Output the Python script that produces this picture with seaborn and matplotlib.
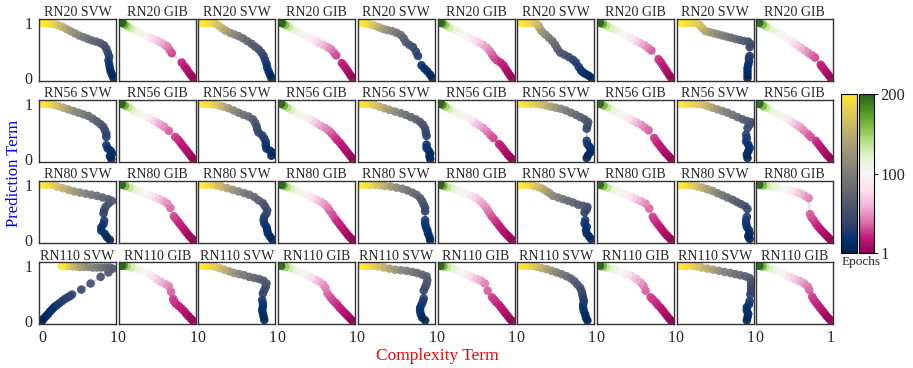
import numpy as np
import pandas as pd
import seaborn as sns
import matplotlib
matplotlib.use("Agg")
import matplotlib.pyplot as plt
from matplotlib.colors import Normalize
from matplotlib.cm import ScalarMappable

# model rows and method columns (SVW / GIB alternate, five runs each)
models = ["RN20", "RN56", "RN80", "RN110"]
methods = ["SVW", "GIB"] * 5
epoch_ticks = [1, 100, 200]

# trajectories: (complexity term, prediction term, epoch)
rn20_svw_a = [(1.00, 0.00, 1), (0.98, 0.06, 5), (0.96, 0.12, 9), (0.95, 0.18, 13), (0.94, 0.25, 17), (0.93, 0.32, 22), (0.94, 0.39, 28), (0.92, 0.46, 35), (0.90, 0.53, 42), (0.87, 0.59, 50), (0.82, 0.63, 58), (0.76, 0.66, 66), (0.70, 0.68, 74), (0.64, 0.71, 82), (0.58, 0.74, 92), (0.52, 0.77, 102), (0.46, 0.81, 112), (0.40, 0.85, 122), (0.34, 0.89, 136), (0.28, 0.93, 150), (0.22, 0.96, 165), (0.16, 0.98, 178), (0.11, 0.99, 188), (0.06, 1.00, 195), (0.02, 1.00, 198), (0.00, 1.00, 200)]
rn20_gib_a = [(1.00, 0.00, 1), (0.97, 0.05, 4), (0.94, 0.10, 8), (0.91, 0.16, 12), (0.88, 0.21, 16), (0.84, 0.28, 20), (0.70, 0.45, 28), (0.67, 0.51, 34), (0.64, 0.57, 40), (0.60, 0.60, 48), (0.55, 0.64, 56), (0.49, 0.68, 66), (0.43, 0.71, 76), (0.37, 0.74, 88), (0.31, 0.78, 98), (0.25, 0.82, 108), (0.19, 0.86, 116), (0.13, 0.90, 128), (0.08, 0.94, 145), (0.04, 0.97, 168), (0.01, 1.00, 190), (0.00, 1.00, 200)]
rn20_svw_b = [(0.98, 0.00, 1), (0.96, 0.06, 5), (0.94, 0.12, 10), (0.92, 0.19, 15), (0.91, 0.26, 20), (0.89, 0.33, 26), (0.87, 0.40, 32), (0.84, 0.46, 40), (0.80, 0.52, 48), (0.75, 0.57, 56), (0.70, 0.62, 64), (0.64, 0.67, 72), (0.58, 0.72, 82), (0.52, 0.76, 94), (0.46, 0.79, 106), (0.40, 0.82, 118), (0.34, 0.86, 132), (0.29, 0.90, 146), (0.24, 0.95, 160), (0.19, 0.99, 172), (0.13, 1.00, 184), (0.07, 1.00, 192), (0.02, 1.00, 197), (0.00, 1.00, 200)]
rn20_gib_b = [(1.00, 0.00, 1), (0.97, 0.05, 4), (0.94, 0.11, 8), (0.91, 0.17, 12), (0.88, 0.22, 16), (0.85, 0.27, 20), (0.77, 0.41, 28), (0.74, 0.46, 34), (0.70, 0.52, 40), (0.65, 0.56, 48), (0.59, 0.60, 58), (0.53, 0.64, 68), (0.47, 0.68, 80), (0.41, 0.72, 90), (0.35, 0.76, 98), (0.29, 0.80, 104), (0.23, 0.84, 110), (0.17, 0.88, 120), (0.11, 0.93, 134), (0.06, 0.96, 158), (0.02, 0.99, 185), (0.00, 1.00, 200)]
rn20_svw_c = [(1.00, 0.00, 1), (0.97, 0.06, 5), (0.93, 0.12, 9), (0.89, 0.17, 13), (0.85, 0.23, 18), (0.80, 0.40, 28), (0.77, 0.48, 35), (0.73, 0.56, 42), (0.68, 0.60, 50), (0.63, 0.65, 58), (0.60, 0.72, 66), (0.56, 0.78, 76), (0.50, 0.82, 88), (0.44, 0.85, 100), (0.37, 0.87, 114), (0.31, 0.89, 128), (0.25, 0.92, 144), (0.19, 0.95, 160), (0.14, 0.97, 174), (0.09, 0.99, 186), (0.04, 1.00, 195), (0.00, 1.00, 200)]
rn20_gib_c = [(1.00, 0.00, 1), (0.97, 0.05, 5), (0.94, 0.11, 9), (0.91, 0.17, 13), (0.88, 0.23, 17), (0.84, 0.28, 21), (0.79, 0.32, 25), (0.75, 0.37, 30), (0.72, 0.43, 35), (0.69, 0.49, 41), (0.65, 0.55, 48), (0.60, 0.60, 56), (0.54, 0.64, 66), (0.48, 0.68, 78), (0.42, 0.72, 88), (0.36, 0.76, 96), (0.30, 0.80, 102), (0.24, 0.84, 108), (0.18, 0.88, 116), (0.12, 0.92, 130), (0.07, 0.96, 150), (0.03, 0.99, 178), (0.00, 1.00, 200)]
rn20_svw_d = [(1.00, 0.00, 1), (0.96, 0.04, 5), (0.92, 0.07, 9), (0.88, 0.10, 13), (0.85, 0.14, 17), (0.82, 0.20, 22), (0.78, 0.28, 28), (0.74, 0.33, 34), (0.68, 0.38, 40), (0.62, 0.42, 48), (0.56, 0.46, 56), (0.52, 0.53, 64), (0.49, 0.60, 74), (0.45, 0.67, 84), (0.40, 0.73, 96), (0.35, 0.79, 108), (0.30, 0.85, 120), (0.27, 0.91, 134), (0.25, 0.96, 150), (0.21, 0.99, 166), (0.15, 1.00, 180), (0.09, 1.00, 190), (0.04, 1.00, 196), (0.00, 1.00, 200)]
rn20_gib_d = [(1.00, 0.00, 1), (0.97, 0.05, 5), (0.94, 0.11, 9), (0.91, 0.17, 13), (0.88, 0.23, 17), (0.85, 0.29, 21), (0.82, 0.34, 25), (0.72, 0.50, 33), (0.68, 0.54, 40), (0.63, 0.59, 48), (0.57, 0.63, 58), (0.51, 0.67, 70), (0.45, 0.71, 82), (0.39, 0.75, 92), (0.33, 0.79, 100), (0.27, 0.83, 106), (0.21, 0.87, 114), (0.15, 0.91, 124), (0.09, 0.95, 140), (0.04, 0.98, 168), (0.00, 1.00, 200)]
rn20_svw_e = [(0.95, 0.00, 1), (0.95, 0.06, 5), (0.95, 0.12, 9), (0.95, 0.18, 13), (0.96, 0.24, 17), (0.97, 0.30, 21), (0.97, 0.36, 25), (0.98, 0.40, 29), (0.98, 0.56, 40), (0.99, 0.62, 46), (0.96, 0.66, 52), (0.90, 0.67, 60), (0.84, 0.69, 68), (0.78, 0.71, 76), (0.72, 0.73, 84), (0.66, 0.75, 92), (0.60, 0.77, 100), (0.54, 0.79, 108), (0.48, 0.81, 116), (0.42, 0.83, 126), (0.36, 0.85, 138), (0.32, 0.90, 152), (0.28, 0.96, 166), (0.22, 1.00, 178), (0.16, 1.00, 186), (0.10, 1.00, 192), (0.05, 1.00, 197), (0.00, 1.00, 200)]
rn20_gib_e = [(1.00, 0.00, 1), (0.97, 0.05, 5), (0.94, 0.10, 9), (0.91, 0.15, 13), (0.88, 0.20, 17), (0.86, 0.24, 21), (0.78, 0.37, 30), (0.74, 0.41, 36), (0.69, 0.45, 42), (0.64, 0.50, 50), (0.58, 0.55, 60), (0.52, 0.60, 70), (0.46, 0.66, 80), (0.40, 0.71, 90), (0.34, 0.76, 98), (0.28, 0.81, 104), (0.22, 0.85, 110), (0.16, 0.89, 120), (0.10, 0.93, 136), (0.05, 0.97, 162), (0.00, 1.00, 200)]

rn56_svw_a = [(0.97, 0.00, 1), (0.95, 0.05, 5), (0.98, 0.10, 9), (0.96, 0.15, 13), (0.92, 0.19, 17), (0.90, 0.25, 21), (0.90, 0.40, 30), (0.90, 0.46, 36), (0.88, 0.52, 42), (0.86, 0.58, 48), (0.82, 0.63, 55), (0.77, 0.68, 62), (0.71, 0.73, 70), (0.65, 0.78, 80), (0.58, 0.81, 90), (0.51, 0.84, 100), (0.44, 0.87, 112), (0.37, 0.90, 126), (0.30, 0.93, 142), (0.23, 0.96, 158), (0.17, 0.98, 172), (0.11, 1.00, 184), (0.05, 1.00, 194), (0.00, 1.00, 200)]
rn56_gib_a = [(1.00, 0.00, 1), (0.97, 0.05, 4), (0.94, 0.10, 7), (0.91, 0.15, 10), (0.88, 0.20, 13), (0.85, 0.25, 16), (0.82, 0.30, 19), (0.79, 0.35, 22), (0.75, 0.40, 26), (0.66, 0.51, 34), (0.60, 0.58, 42), (0.55, 0.62, 50), (0.50, 0.66, 60), (0.44, 0.70, 72), (0.38, 0.74, 86), (0.32, 0.78, 96), (0.26, 0.82, 104), (0.20, 0.86, 112), (0.14, 0.90, 124), (0.09, 0.94, 140), (0.04, 0.97, 168), (0.00, 1.00, 200)]
rn56_svw_b = [(0.98, 0.06, 1), (1.00, 0.11, 5), (0.96, 0.15, 9), (0.91, 0.19, 13), (0.90, 0.25, 17), (0.90, 0.31, 21), (0.88, 0.37, 26), (0.85, 0.43, 31), (0.80, 0.48, 36), (0.78, 0.54, 42), (0.77, 0.60, 48), (0.75, 0.66, 55), (0.72, 0.72, 62), (0.66, 0.77, 72), (0.59, 0.80, 82), (0.52, 0.84, 94), (0.45, 0.88, 108), (0.38, 0.92, 124), (0.31, 0.95, 142), (0.25, 0.97, 160), (0.18, 0.99, 174), (0.12, 1.00, 186), (0.06, 1.00, 194), (0.00, 1.00, 200)]
rn56_gib_b = [(1.00, 0.00, 1), (0.97, 0.05, 4), (0.94, 0.10, 7), (0.91, 0.15, 10), (0.88, 0.20, 13), (0.85, 0.25, 16), (0.82, 0.30, 19), (0.78, 0.35, 22), (0.75, 0.40, 26), (0.71, 0.46, 31), (0.67, 0.51, 37), (0.62, 0.56, 44), (0.56, 0.60, 52), (0.50, 0.65, 62), (0.44, 0.69, 74), (0.38, 0.73, 86), (0.32, 0.77, 96), (0.26, 0.81, 104), (0.20, 0.85, 112), (0.14, 0.89, 124), (0.09, 0.93, 140), (0.04, 0.97, 168), (0.00, 1.00, 200)]
rn56_svw_c = [(0.97, 0.00, 1), (0.96, 0.05, 5), (0.97, 0.10, 9), (0.95, 0.15, 13), (0.92, 0.20, 17), (0.92, 0.26, 21), (0.92, 0.42, 31), (0.91, 0.48, 37), (0.90, 0.55, 43), (0.87, 0.62, 50), (0.83, 0.67, 57), (0.77, 0.72, 65), (0.70, 0.76, 74), (0.63, 0.80, 84), (0.56, 0.83, 96), (0.48, 0.86, 108), (0.40, 0.89, 122), (0.33, 0.92, 138), (0.26, 0.95, 154), (0.19, 0.98, 168), (0.13, 1.00, 180), (0.07, 1.00, 190), (0.02, 1.00, 197), (0.00, 1.00, 200)]
rn56_gib_c = [(1.00, 0.00, 1), (0.97, 0.04, 4), (0.94, 0.08, 7), (0.91, 0.13, 10), (0.88, 0.18, 13), (0.85, 0.23, 16), (0.82, 0.27, 20), (0.74, 0.38, 28), (0.70, 0.43, 34), (0.65, 0.50, 40), (0.60, 0.56, 48), (0.54, 0.61, 58), (0.48, 0.66, 70), (0.42, 0.71, 84), (0.36, 0.75, 94), (0.30, 0.79, 102), (0.24, 0.83, 108), (0.18, 0.87, 116), (0.12, 0.91, 128), (0.07, 0.95, 148), (0.03, 0.98, 176), (0.00, 1.00, 200)]
rn56_svw_d = [(0.93, 0.02, 1), (0.95, 0.07, 5), (0.98, 0.12, 9), (1.00, 0.17, 13), (0.97, 0.22, 17), (0.94, 0.27, 21), (0.93, 0.33, 25), (0.93, 0.55, 38), (0.94, 0.61, 44), (0.95, 0.67, 50), (0.90, 0.72, 58), (0.84, 0.76, 66), (0.78, 0.80, 74), (0.71, 0.84, 84), (0.64, 0.88, 94), (0.57, 0.91, 106), (0.50, 0.93, 118), (0.43, 0.95, 132), (0.36, 0.97, 146), (0.29, 0.99, 160), (0.22, 1.00, 172), (0.15, 1.00, 182), (0.08, 1.00, 192), (0.00, 1.00, 200)]
rn56_gib_d = [(1.00, 0.00, 1), (0.97, 0.04, 4), (0.94, 0.08, 7), (0.91, 0.12, 10), (0.88, 0.17, 13), (0.85, 0.22, 16), (0.82, 0.27, 19), (0.79, 0.32, 22), (0.76, 0.38, 26), (0.68, 0.52, 34), (0.63, 0.57, 40), (0.58, 0.62, 48), (0.52, 0.66, 58), (0.46, 0.70, 70), (0.40, 0.74, 84), (0.34, 0.78, 94), (0.28, 0.82, 102), (0.22, 0.86, 110), (0.16, 0.90, 120), (0.10, 0.94, 136), (0.05, 0.97, 162), (0.00, 1.00, 200)]
rn56_svw_e = [(0.95, 0.02, 1), (0.94, 0.08, 5), (0.96, 0.14, 9), (0.98, 0.20, 13), (0.96, 0.26, 17), (0.93, 0.32, 21), (0.94, 0.38, 25), (0.93, 0.44, 29), (0.95, 0.56, 38), (0.98, 0.62, 44), (1.00, 0.67, 50), (0.94, 0.69, 58), (0.88, 0.72, 66), (0.81, 0.76, 76), (0.74, 0.80, 86), (0.67, 0.84, 96), (0.60, 0.87, 108), (0.53, 0.90, 120), (0.46, 0.93, 134), (0.39, 0.96, 148), (0.32, 0.99, 162), (0.25, 1.00, 174), (0.17, 1.00, 184), (0.09, 1.00, 193), (0.00, 1.00, 200)]
rn56_gib_e = [(1.00, 0.00, 1), (0.97, 0.04, 4), (0.94, 0.08, 7), (0.91, 0.13, 10), (0.88, 0.18, 13), (0.85, 0.23, 16), (0.82, 0.28, 19), (0.79, 0.33, 23), (0.72, 0.40, 30), (0.68, 0.45, 35), (0.62, 0.52, 42), (0.57, 0.58, 50), (0.52, 0.62, 60), (0.46, 0.67, 72), (0.40, 0.72, 86), (0.34, 0.76, 96), (0.28, 0.80, 104), (0.22, 0.84, 110), (0.16, 0.88, 120), (0.10, 0.93, 136), (0.05, 0.96, 162), (0.00, 1.00, 200)]

rn80_svw_a = [(0.95, 0.00, 1), (0.91, 0.05, 5), (0.88, 0.11, 9), (0.83, 0.17, 13), (0.83, 0.23, 17), (0.86, 0.29, 21), (0.87, 0.35, 25), (0.86, 0.48, 34), (0.87, 0.54, 40), (0.89, 0.60, 46), (0.93, 0.66, 52), (0.98, 0.71, 58), (0.93, 0.74, 64), (0.85, 0.77, 72), (0.77, 0.80, 80), (0.69, 0.82, 90), (0.61, 0.84, 100), (0.53, 0.86, 112), (0.45, 0.88, 124), (0.37, 0.91, 138), (0.29, 0.94, 152), (0.21, 0.97, 166), (0.14, 1.00, 180), (0.07, 1.00, 192), (0.00, 1.00, 200)]
rn80_gib_a = [(1.00, 0.00, 1), (0.97, 0.04, 4), (0.94, 0.08, 7), (0.91, 0.13, 10), (0.88, 0.18, 13), (0.85, 0.23, 16), (0.82, 0.28, 19), (0.79, 0.33, 22), (0.76, 0.38, 25), (0.73, 0.43, 29), (0.68, 0.58, 37), (0.64, 0.66, 44), (0.59, 0.70, 52), (0.53, 0.74, 62), (0.47, 0.77, 74), (0.41, 0.80, 88), (0.35, 0.83, 96), (0.29, 0.86, 104), (0.23, 0.89, 110), (0.17, 0.92, 120), (0.11, 0.95, 134), (0.05, 0.98, 162), (0.00, 1.00, 200)]
rn80_svw_b = [(0.99, 0.01, 1), (0.96, 0.06, 5), (0.93, 0.12, 9), (0.92, 0.18, 13), (0.91, 0.24, 17), (0.88, 0.30, 21), (0.87, 0.36, 25), (0.88, 0.42, 30), (0.91, 0.48, 35), (0.92, 0.54, 41), (0.89, 0.61, 48), (0.86, 0.67, 55), (0.80, 0.72, 63), (0.74, 0.78, 72), (0.67, 0.82, 82), (0.60, 0.85, 92), (0.52, 0.88, 104), (0.44, 0.91, 120), (0.36, 0.94, 136), (0.28, 0.97, 154), (0.21, 0.99, 168), (0.14, 1.00, 182), (0.07, 1.00, 193), (0.00, 1.00, 200)]
rn80_gib_b = [(1.00, 0.00, 1), (0.97, 0.04, 4), (0.94, 0.08, 7), (0.91, 0.13, 10), (0.88, 0.18, 13), (0.85, 0.23, 16), (0.82, 0.28, 19), (0.79, 0.33, 22), (0.76, 0.38, 25), (0.72, 0.46, 30), (0.68, 0.53, 35), (0.65, 0.59, 41), (0.61, 0.65, 48), (0.56, 0.69, 56), (0.50, 0.73, 66), (0.44, 0.77, 78), (0.38, 0.81, 90), (0.32, 0.84, 98), (0.26, 0.87, 106), (0.20, 0.90, 114), (0.14, 0.93, 124), (0.08, 0.96, 144), (0.03, 0.99, 176), (0.00, 1.00, 200)]
rn80_svw_c = [(0.97, 0.00, 1), (0.96, 0.06, 5), (0.94, 0.12, 9), (0.93, 0.18, 13), (0.91, 0.24, 17), (0.90, 0.30, 21), (0.90, 0.36, 25), (0.90, 0.52, 36), (0.90, 0.58, 42), (0.88, 0.64, 48), (0.86, 0.70, 55), (0.83, 0.76, 62), (0.78, 0.82, 70), (0.72, 0.86, 78), (0.65, 0.90, 88), (0.58, 0.93, 98), (0.50, 0.95, 112), (0.42, 0.97, 126), (0.34, 0.98, 142), (0.27, 0.99, 158), (0.20, 1.00, 172), (0.13, 1.00, 184), (0.06, 1.00, 194), (0.00, 1.00, 200)]
rn80_gib_c = [(1.00, 0.00, 1), (0.97, 0.04, 4), (0.94, 0.08, 7), (0.91, 0.12, 10), (0.88, 0.16, 13), (0.85, 0.21, 16), (0.82, 0.26, 19), (0.79, 0.31, 22), (0.76, 0.36, 26), (0.72, 0.42, 30), (0.69, 0.48, 35), (0.66, 0.54, 40), (0.63, 0.60, 46), (0.59, 0.66, 52), (0.55, 0.71, 58), (0.50, 0.76, 66), (0.45, 0.79, 76), (0.39, 0.82, 88), (0.33, 0.85, 98), (0.27, 0.88, 104), (0.21, 0.91, 112), (0.15, 0.94, 122), (0.09, 0.96, 138), (0.04, 0.98, 166), (0.00, 1.00, 200)]
rn80_svw_d = [(0.99, 0.02, 1), (0.96, 0.07, 5), (0.93, 0.12, 9), (0.92, 0.18, 13), (0.93, 0.24, 17), (0.90, 0.30, 21), (0.91, 0.36, 25), (0.90, 0.50, 35), (0.93, 0.55, 41), (0.94, 0.60, 47), (0.88, 0.62, 54), (0.81, 0.64, 62), (0.74, 0.68, 70), (0.67, 0.71, 78), (0.60, 0.74, 88), (0.53, 0.77, 98), (0.46, 0.80, 108), (0.41, 0.85, 120), (0.36, 0.89, 132), (0.31, 0.93, 146), (0.25, 0.96, 160), (0.19, 0.98, 172), (0.13, 1.00, 184), (0.07, 1.00, 193), (0.00, 1.00, 200)]
rn80_gib_d = [(1.00, 0.00, 1), (0.97, 0.04, 4), (0.94, 0.08, 7), (0.91, 0.12, 10), (0.88, 0.17, 13), (0.85, 0.22, 16), (0.82, 0.27, 19), (0.79, 0.32, 22), (0.76, 0.37, 25), (0.74, 0.42, 28), (0.69, 0.57, 36), (0.64, 0.66, 44), (0.58, 0.70, 52), (0.52, 0.73, 62), (0.46, 0.77, 74), (0.40, 0.80, 88), (0.34, 0.83, 96), (0.28, 0.86, 104), (0.22, 0.89, 110), (0.16, 0.92, 120), (0.10, 0.95, 136), (0.05, 0.98, 162), (0.00, 1.00, 200)]
rn80_svw_e = [(0.98, 0.02, 1), (0.96, 0.07, 5), (0.98, 0.12, 9), (0.97, 0.18, 13), (0.94, 0.24, 17), (0.93, 0.30, 21), (0.93, 0.36, 25), (0.94, 0.42, 29), (0.95, 0.56, 40), (0.92, 0.61, 46), (0.86, 0.65, 53), (0.80, 0.69, 60), (0.74, 0.73, 68), (0.67, 0.77, 78), (0.60, 0.81, 88), (0.53, 0.85, 100), (0.46, 0.89, 114), (0.39, 0.92, 128), (0.32, 0.95, 144), (0.25, 0.97, 160), (0.18, 0.99, 174), (0.12, 1.00, 185), (0.06, 1.00, 194), (0.00, 1.00, 200)]
rn80_gib_e = [(1.00, 0.00, 1), (0.97, 0.04, 4), (0.94, 0.08, 7), (0.91, 0.12, 10), (0.88, 0.16, 13), (0.85, 0.20, 16), (0.82, 0.25, 19), (0.79, 0.30, 22), (0.76, 0.36, 26), (0.73, 0.41, 30), (0.71, 0.47, 34), (0.69, 0.76, 42), (0.64, 0.80, 50), (0.58, 0.84, 60), (0.52, 0.87, 70), (0.46, 0.89, 82), (0.40, 0.91, 92), (0.34, 0.92, 100), (0.28, 0.94, 106), (0.22, 0.95, 112), (0.16, 0.96, 120), (0.10, 0.98, 134), (0.05, 0.99, 160), (0.00, 1.00, 200)]

rn110_svw_a = [(0.00, 0.00, 1), (0.02, 0.04, 3), (0.05, 0.08, 6), (0.08, 0.12, 9), (0.11, 0.17, 12), (0.14, 0.21, 15), (0.17, 0.25, 18), (0.20, 0.28, 21), (0.24, 0.32, 24), (0.28, 0.36, 27), (0.32, 0.40, 30), (0.36, 0.43, 33), (0.39, 0.45, 36), (0.42, 0.48, 38), (0.55, 0.57, 42), (0.68, 0.68, 47), (0.82, 0.80, 52), (0.93, 0.88, 57), (0.99, 0.95, 62), (0.95, 0.97, 68), (0.89, 0.97, 76), (0.83, 0.97, 84), (0.77, 0.97, 92), (0.71, 0.97, 100), (0.65, 0.98, 110), (0.59, 0.98, 120), (0.53, 0.98, 130), (0.48, 0.99, 142), (0.43, 0.99, 154), (0.38, 1.00, 166), (0.34, 1.00, 178), (0.31, 1.00, 188), (0.29, 1.00, 195), (0.28, 1.00, 200)]
rn110_gib_a = [(1.00, 0.00, 1), (0.97, 0.04, 4), (0.94, 0.08, 7), (0.91, 0.12, 10), (0.88, 0.17, 13), (0.84, 0.22, 16), (0.80, 0.27, 19), (0.76, 0.31, 22), (0.73, 0.36, 25), (0.72, 0.40, 28), (0.69, 0.53, 35), (0.66, 0.63, 42), (0.61, 0.67, 50), (0.55, 0.71, 58), (0.49, 0.76, 68), (0.43, 0.81, 80), (0.37, 0.86, 92), (0.31, 0.89, 100), (0.25, 0.92, 108), (0.19, 0.95, 116), (0.13, 0.97, 128), (0.07, 0.99, 148), (0.03, 1.00, 176), (0.00, 1.00, 200)]
rn110_svw_b = [(0.88, 0.02, 1), (0.87, 0.08, 5), (0.86, 0.14, 9), (0.85, 0.20, 13), (0.86, 0.26, 17), (0.86, 0.32, 21), (0.85, 0.38, 25), (0.86, 0.50, 34), (0.88, 0.56, 40), (0.90, 0.62, 46), (0.91, 0.68, 52), (0.87, 0.73, 58), (0.81, 0.76, 66), (0.74, 0.78, 74), (0.67, 0.80, 82), (0.60, 0.83, 92), (0.53, 0.85, 104), (0.46, 0.87, 118), (0.39, 0.90, 132), (0.32, 0.93, 148), (0.25, 0.96, 162), (0.18, 0.99, 176), (0.12, 1.00, 186), (0.06, 1.00, 194), (0.00, 1.00, 200)]
rn110_gib_b = [(1.00, 0.00, 1), (0.97, 0.04, 4), (0.94, 0.08, 7), (0.91, 0.12, 10), (0.88, 0.16, 13), (0.85, 0.20, 16), (0.82, 0.24, 19), (0.79, 0.29, 22), (0.76, 0.33, 25), (0.72, 0.38, 28), (0.69, 0.43, 31), (0.65, 0.50, 36), (0.62, 0.60, 42), (0.59, 0.66, 48), (0.54, 0.71, 56), (0.48, 0.75, 66), (0.42, 0.79, 78), (0.36, 0.83, 90), (0.30, 0.87, 100), (0.24, 0.90, 108), (0.18, 0.93, 116), (0.12, 0.96, 128), (0.06, 0.98, 150), (0.00, 1.00, 200)]
rn110_svw_c = [(0.90, 0.01, 1), (0.86, 0.06, 5), (0.84, 0.12, 9), (0.83, 0.18, 13), (0.83, 0.24, 17), (0.85, 0.30, 21), (0.87, 0.36, 25), (0.88, 0.41, 29), (0.88, 0.55, 40), (0.90, 0.61, 46), (0.92, 0.67, 52), (0.93, 0.74, 58), (0.92, 0.81, 64), (0.86, 0.84, 70), (0.79, 0.87, 78), (0.72, 0.89, 86), (0.64, 0.91, 96), (0.56, 0.92, 108), (0.48, 0.93, 120), (0.40, 0.95, 134), (0.32, 0.97, 150), (0.24, 0.99, 164), (0.17, 1.00, 178), (0.10, 1.00, 188), (0.05, 1.00, 195), (0.00, 1.00, 200)]
rn110_gib_c = [(1.00, 0.00, 1), (0.97, 0.04, 4), (0.94, 0.09, 7), (0.91, 0.14, 10), (0.88, 0.19, 13), (0.85, 0.24, 16), (0.82, 0.29, 19), (0.78, 0.34, 22), (0.75, 0.39, 25), (0.72, 0.43, 28), (0.66, 0.55, 35), (0.62, 0.68, 42), (0.57, 0.73, 50), (0.51, 0.76, 60), (0.45, 0.79, 70), (0.39, 0.83, 82), (0.33, 0.86, 94), (0.27, 0.90, 102), (0.21, 0.93, 110), (0.15, 0.96, 120), (0.09, 0.98, 136), (0.04, 0.99, 164), (0.00, 1.00, 200)]
rn110_svw_d = [(0.94, 0.01, 1), (0.92, 0.06, 5), (0.91, 0.12, 9), (0.89, 0.18, 13), (0.88, 0.24, 17), (0.88, 0.30, 21), (0.89, 0.36, 25), (0.88, 0.42, 30), (0.87, 0.48, 36), (0.86, 0.54, 42), (0.84, 0.60, 48), (0.80, 0.66, 55), (0.76, 0.72, 62), (0.71, 0.77, 70), (0.65, 0.81, 80), (0.58, 0.85, 90), (0.51, 0.88, 102), (0.44, 0.91, 116), (0.37, 0.94, 130), (0.30, 0.96, 146), (0.24, 0.98, 160), (0.18, 1.00, 174), (0.12, 1.00, 184), (0.06, 1.00, 193), (0.00, 1.00, 200)]
rn110_gib_d = [(1.00, 0.00, 1), (0.97, 0.04, 4), (0.94, 0.09, 7), (0.91, 0.14, 10), (0.88, 0.19, 13), (0.85, 0.24, 16), (0.81, 0.29, 19), (0.78, 0.34, 22), (0.74, 0.39, 25), (0.71, 0.43, 28), (0.64, 0.55, 35), (0.61, 0.64, 42), (0.57, 0.70, 50), (0.51, 0.76, 60), (0.45, 0.81, 70), (0.39, 0.84, 82), (0.33, 0.87, 94), (0.27, 0.90, 102), (0.21, 0.93, 110), (0.15, 0.95, 120), (0.09, 0.97, 136), (0.04, 0.99, 164), (0.00, 1.00, 200)]
rn110_svw_e = [(0.94, 0.01, 1), (0.95, 0.07, 5), (0.96, 0.13, 9), (0.94, 0.19, 13), (0.94, 0.25, 17), (0.97, 0.30, 21), (0.98, 0.36, 25), (0.99, 0.48, 33), (1.00, 0.54, 39), (1.00, 0.60, 44), (1.00, 0.66, 49), (1.00, 0.72, 54), (0.98, 0.78, 60), (0.92, 0.81, 66), (0.85, 0.83, 74), (0.78, 0.85, 82), (0.71, 0.87, 92), (0.63, 0.89, 102), (0.55, 0.91, 114), (0.47, 0.93, 128), (0.39, 0.95, 142), (0.31, 0.97, 156), (0.24, 0.99, 170), (0.17, 1.00, 182), (0.10, 1.00, 190), (0.04, 1.00, 196), (0.00, 1.00, 200)]
rn110_gib_e = [(1.00, 0.01, 1), (0.97, 0.05, 4), (0.94, 0.09, 7), (0.91, 0.14, 10), (0.88, 0.19, 13), (0.85, 0.24, 16), (0.82, 0.29, 19), (0.79, 0.34, 22), (0.76, 0.39, 25), (0.74, 0.44, 28), (0.70, 0.56, 35), (0.68, 0.62, 40), (0.63, 0.68, 46), (0.57, 0.72, 54), (0.50, 0.76, 64), (0.44, 0.79, 74), (0.38, 0.82, 86), (0.32, 0.86, 96), (0.26, 0.89, 104), (0.20, 0.93, 112), (0.14, 0.95, 122), (0.08, 0.98, 140), (0.04, 0.99, 166), (0.00, 1.00, 200)]

grid = [
    [rn20_svw_a, rn20_gib_a, rn20_svw_b, rn20_gib_b, rn20_svw_c, rn20_gib_c, rn20_svw_d, rn20_gib_d, rn20_svw_e, rn20_gib_e],
    [rn56_svw_a, rn56_gib_a, rn56_svw_b, rn56_gib_b, rn56_svw_c, rn56_gib_c, rn56_svw_d, rn56_gib_d, rn56_svw_e, rn56_gib_e],
    [rn80_svw_a, rn80_gib_a, rn80_svw_b, rn80_gib_b, rn80_svw_c, rn80_gib_c, rn80_svw_d, rn80_gib_d, rn80_svw_e, rn80_gib_e],
    [rn110_svw_a, rn110_gib_a, rn110_svw_b, rn110_gib_b, rn110_svw_c, rn110_gib_c, rn110_svw_d, rn110_gib_d, rn110_svw_e, rn110_gib_e],
]

cmaps = {"SVW": "cividis", "GIB": "PiYG"}
trail = {"SVW": "#ccd4e4", "GIB": "#f6cfe2"}

sns.set_style("white")
plt.rcParams["font.family"] = ["Liberation Serif", "DejaVu Serif"]

W, H = 913, 368
fig = plt.figure(figsize=(W / 100, H / 100), dpi=100)

for r, model in enumerate(models):
    for c, method in enumerate(methods):
        left = 39 + 79.7 * c
        top = 19 + 81 * r
        ax = fig.add_axes([left / W, 1 - (top + 62) / H, 77 / W, 62 / H])
        df = pd.DataFrame(grid[r][c], columns=["complexity", "prediction", "epoch"])
        ax.plot(df["complexity"], df["prediction"], color=trail[method], lw=1.3, zorder=1)
        sns.scatterplot(data=df, x="complexity", y="prediction", hue="epoch",
                        palette=cmaps[method], hue_norm=(1, 200), s=38,
                        linewidth=0, alpha=0.9, legend=False, ax=ax, zorder=2)
        ax.set_xlim(-0.042, 1.035)
        ax.set_ylim(-0.054, 1.07)
        ax.set_xlabel("")
        ax.set_ylabel("")
        ax.set_title(f"{model} {method}", fontsize=10, pad=1.5)
        for s in ax.spines.values():
            s.set_color("0.2")
            s.set_linewidth(1.0)
        ax.tick_params(length=3, width=0.8, labelsize=11.5, pad=1.5)
        if c == 0:
            ax.set_yticks([0, 1])
            ax.set_yticklabels(["0", "1"])
        else:
            ax.set_yticks([])
        if r == len(models) - 1:
            ax.set_xticks([0, 1])
            ax.set_xticklabels(["0", "1"])
        else:
            ax.set_xticks([])

# two colour bars sharing the epoch scale
norm = Normalize(1, 200)
cax1 = fig.add_axes([841 / W, 1 - 253 / H, 16 / W, 159 / H])
cax2 = fig.add_axes([859 / W, 1 - 253 / H, 15 / W, 159 / H])
cb1 = fig.colorbar(ScalarMappable(norm=norm, cmap="cividis"), cax=cax1)
cb1.set_ticks([])
cb2 = fig.colorbar(ScalarMappable(norm=norm, cmap="PiYG"), cax=cax2)
cb2.set_ticks(epoch_ticks)
cb2.ax.tick_params(length=3, width=0.8, labelsize=12, pad=1.5)
for cb in (cb1, cb2):
    cb.outline.set_linewidth(0.8)
    cb.outline.set_edgecolor("black")
fig.text(861 / W, 1 - 262 / H, "Epochs", fontsize=9.5, ha="center", va="center")

fig.text(14 / W, 0.53, "Prediction Term", rotation=90, color="blue",
         fontsize=12, ha="center", va="center")
fig.text(437 / W, 1 - 356 / H, "Complexity Term", color="red",
         fontsize=12.5, ha="center", va="center")

fig.savefig("out.png", dpi=100)
